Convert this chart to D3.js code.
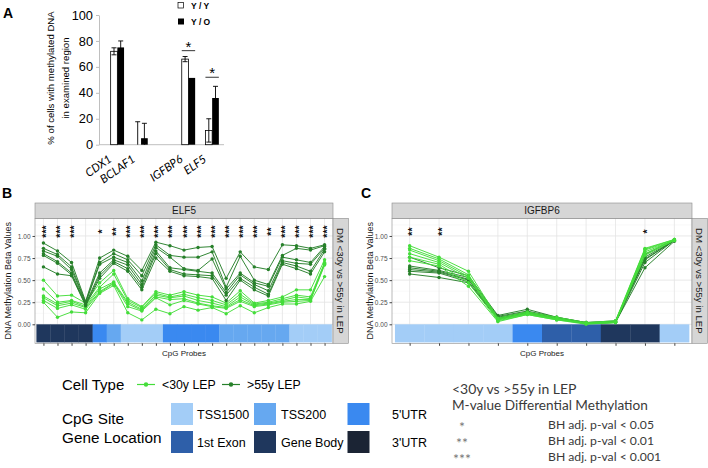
<!DOCTYPE html>
<html>
<head>
<meta charset="utf-8">
<script src="https://cdn.jsdelivr.net/npm/d3@7"></script>
<style>
  body { margin: 0; background: #fff; }
  svg { display: block; }
</style>
</head>
<body>
<svg id="fig" width="708" height="468"></svg>
<script>
// ---------- data : panel A (bisulfite, % cells methylated)
const genesA = ["CDX1", "BCLAF1", "IGFBP6", "ELF5"];
const yyMean = [72, 0, 66, 11];
const yyErr  = [2.7, 17.7, 2, 9];
const yoMean = [75, 5, 51.5, 36];
const yoErr  = [5, 11.5, 0, 9];
const sigA   = ["", "", "*", "*"];
const sigAt  = [0, 0, 72.5, 52];
const ticksA = [0, 20, 40, 60, 80, 100];

// ---------- data : panel B (ELF5, 21 CpG probes)
const elf5Old = [
  [0.92, 0.83, 0.70, 0.26, 0.75, 0.84, 0.77, 0.61, 0.93, 0.89, 0.84, 0.87, 0.88, 0.52, 0.82, 0.65, 0.62, 0.90, 0.89, 0.86, 0.90],
  [0.86, 0.79, 0.65, 0.25, 0.70, 0.80, 0.73, 0.55, 0.90, 0.78, 0.76, 0.76, 0.82, 0.42, 0.77, 0.50, 0.45, 0.78, 0.86, 0.84, 0.89],
  [0.83, 0.77, 0.62, 0.24, 0.68, 0.76, 0.70, 0.49, 0.87, 0.76, 0.63, 0.61, 0.74, 0.40, 0.58, 0.47, 0.43, 0.76, 0.73, 0.70, 0.88],
  [0.80, 0.71, 0.58, 0.23, 0.58, 0.73, 0.67, 0.45, 0.83, 0.64, 0.62, 0.60, 0.58, 0.36, 0.56, 0.45, 0.38, 0.72, 0.69, 0.68, 0.86],
  [0.78, 0.69, 0.56, 0.22, 0.55, 0.71, 0.63, 0.42, 0.80, 0.62, 0.57, 0.56, 0.55, 0.33, 0.52, 0.42, 0.34, 0.70, 0.66, 0.60, 0.85],
  [0.65, 0.57, 0.55, 0.21, 0.52, 0.69, 0.60, 0.39, 0.75, 0.60, 0.55, 0.54, 0.52, 0.27, 0.50, 0.39, 0.32, 0.68, 0.63, 0.57, 0.82]
];
const elf5Young = [
  [0.50, 0.32, 0.33, 0.24, 0.47, 0.61, 0.29, 0.20, 0.37, 0.33, 0.37, 0.33, 0.31, 0.24, 0.38, 0.24, 0.27, 0.31, 0.39, 0.39, 0.73],
  [0.40, 0.25, 0.27, 0.22, 0.42, 0.57, 0.27, 0.19, 0.35, 0.31, 0.34, 0.30, 0.27, 0.22, 0.34, 0.23, 0.25, 0.29, 0.33, 0.31, 0.70],
  [0.32, 0.23, 0.26, 0.20, 0.40, 0.48, 0.25, 0.17, 0.33, 0.30, 0.32, 0.27, 0.24, 0.20, 0.31, 0.22, 0.24, 0.27, 0.31, 0.29, 0.69],
  [0.30, 0.21, 0.24, 0.19, 0.37, 0.47, 0.23, 0.16, 0.31, 0.28, 0.29, 0.24, 0.21, 0.19, 0.28, 0.21, 0.23, 0.26, 0.28, 0.28, 0.68],
  [0.27, 0.18, 0.22, 0.17, 0.36, 0.46, 0.20, 0.15, 0.30, 0.22, 0.27, 0.23, 0.20, 0.18, 0.26, 0.20, 0.22, 0.25, 0.26, 0.27, 0.67],
  [0.25, 0.08, 0.14, 0.13, 0.35, 0.44, 0.13, 0.05, 0.17, 0.12, 0.20, 0.16, 0.19, 0.12, 0.21, 0.13, 0.19, 0.23, 0.23, 0.26, 0.54]
];
const elf5Region = ["Gene Body", "Gene Body", "Gene Body", "Gene Body", "5'UTR", "TSS200",
  "TSS1500", "TSS1500", "TSS1500", "5'UTR", "5'UTR", "5'UTR", "5'UTR",
  "TSS200", "TSS200", "TSS200", "TSS200", "TSS200", "TSS1500", "TSS1500", "TSS1500"];
const elf5Stars = ["***", "***", "***", "", "*", "**", "***", "***", "***", "***", "***",
  "***", "***", "***", "***", "***", "**", "***", "***", "***", "***"];

// ---------- data : panel C (IGFBP6, 10 CpG probes)
const igfOld = [
  [0.76, 0.64, 0.55, 0.10, 0.17, 0.08, 0.02, 0.04, 0.79, 0.96],
  [0.66, 0.61, 0.53, 0.09, 0.15, 0.08, 0.02, 0.03, 0.76, 0.95],
  [0.64, 0.60, 0.51, 0.08, 0.14, 0.07, 0.01, 0.03, 0.74, 0.95],
  [0.62, 0.59, 0.50, 0.07, 0.13, 0.07, 0.01, 0.03, 0.73, 0.95],
  [0.60, 0.58, 0.48, 0.07, 0.13, 0.06, 0.01, 0.02, 0.70, 0.95],
  [0.57, 0.53, 0.47, 0.06, 0.12, 0.06, 0.01, 0.02, 0.64, 0.94]
];
const igfYoung = [
  [0.89, 0.76, 0.60, 0.07, 0.14, 0.08, 0.02, 0.04, 0.86, 0.96],
  [0.86, 0.74, 0.56, 0.06, 0.13, 0.07, 0.01, 0.03, 0.85, 0.96],
  [0.84, 0.72, 0.54, 0.05, 0.12, 0.06, 0.01, 0.03, 0.84, 0.95],
  [0.80, 0.70, 0.52, 0.05, 0.12, 0.06, 0.01, 0.02, 0.82, 0.95],
  [0.76, 0.68, 0.47, 0.04, 0.11, 0.05, 0.01, 0.02, 0.80, 0.95],
  [0.72, 0.66, 0.43, 0.03, 0.11, 0.05, 0.00, 0.02, 0.78, 0.95]
];
const igfRegion = ["TSS1500", "TSS1500", "TSS1500", "TSS1500", "5'UTR",
  "1st Exon", "1st Exon", "Gene Body", "Gene Body", "TSS1500"];
const igfStars = ["**", "**", "", "", "", "", "", "", "*", ""];

const betaTicks = [0, 0.25, 0.5, 0.75, 1];
const cellTypes = ["<30y LEP", ">55y LEP"];
const regionNames = ["TSS1500", "TSS200", "5'UTR", "1st Exon", "Gene Body", "3'UTR"];
const sigLevels = ["*", "**", "***"];
const sigText = ["BH adj. p-val < 0.05", "BH adj. p-val < 0.01", "BH adj. p-val < 0.001"];

// ---------- styling
const arial = "'Liberation Sans', Arial, sans-serif";
const calibri = "Lato, 'Open Sans', sans-serif";
const cellColor = d3.scaleOrdinal(cellTypes, ["#44dd3a", "#27802a"]);
const regionColor = d3.scaleOrdinal(regionNames,
  ["#a3cdf7", "#66a8f0", "#3a89f0", "#2e5fa9", "#1f375d", "#1b2434"]);

const svg = d3.select("#fig").attr("font-family", arial);

// panel letters
[["A", 3, 18], ["B", 2, 198], ["C", 361, 198]].forEach(([t, x, y]) =>
  svg.append("text").attr("x", x).attr("y", y).attr("font-size", 14)
    .attr("font-weight", "bold").text(t));

// ================= Panel A
const gA = svg.append("g");
const xA = d3.scaleBand().domain([genesA[0], genesA[1], "", genesA[2], genesA[3]]).range([105.5, 224]);
const yA = d3.scaleLinear().domain([0, 100]).range([144.7, 15]);
const bw = 6.7;
const mid = g => xA(g) + xA.bandwidth() / 2;

gA.append("g").attr("transform", "translate(99,0)")
  .call(d3.axisLeft(yA).tickValues(ticksA).tickSize(3).tickSizeOuter(0).tickPadding(3))
  .call(g => g.selectAll("path,line").attr("stroke", "#bfbfbf"))
  .call(g => g.selectAll("text").attr("font-size", 12.8).attr("fill", "#000").attr("font-family", arial));
gA.append("line").attr("x1", 99).attr("x2", 224).attr("y1", yA(0)).attr("y2", yA(0)).attr("stroke", "#bfbfbf");

const yTitle = gA.append("text").attr("transform", "translate(54,78) rotate(-90)")
  .attr("text-anchor", "middle").attr("font-size", 9.6);
yTitle.append("tspan").attr("x", 0).attr("dy", 0).text("% of cells with methylated DNA");
yTitle.append("tspan").attr("x", 0).attr("dy", 15).text("in examined region");

const errBar = (x, m, e, color) => {
  if (!e) return;
  const lo = Math.max(0, m - e), hi = m + e;
  gA.append("line").attr("x1", x).attr("x2", x).attr("y1", yA(lo)).attr("y2", yA(hi)).attr("stroke", color).attr("stroke-width", 0.9);
  gA.append("line").attr("x1", x - 2.5).attr("x2", x + 2.5).attr("y1", yA(hi)).attr("y2", yA(hi)).attr("stroke", color).attr("stroke-width", 0.9);
  if (m - e > 0) gA.append("line").attr("x1", x - 2.5).attr("x2", x + 2.5).attr("y1", yA(lo)).attr("y2", yA(lo)).attr("stroke", color).attr("stroke-width", 0.9);
};

genesA.forEach((g, i) => {
  const c = mid(g);
  gA.append("rect").attr("x", c - bw).attr("width", bw).attr("y", yA(yyMean[i]))
    .attr("height", yA(0) - yA(yyMean[i])).attr("fill", "#fff").attr("stroke", "#000").attr("stroke-width", 0.8);
  errBar(c - bw / 2, yyMean[i], yyErr[i], "#000");
  gA.append("rect").attr("x", c).attr("width", bw).attr("y", yA(yoMean[i]))
    .attr("height", yA(0) - yA(yoMean[i])).attr("fill", "#000");
  errBar(c + bw / 2, yoMean[i], yoErr[i], "#000");
  if (sigA[i]) {
    gA.append("line").attr("x1", c - bw).attr("x2", c + bw).attr("y1", yA(sigAt[i])).attr("y2", yA(sigAt[i])).attr("stroke", "#000").attr("stroke-width", 0.8);
    gA.append("text").attr("x", c).attr("y", yA(sigAt[i]) + 1).attr("text-anchor", "middle")
      .attr("font-size", 15).text(sigA[i]);
  }
  gA.append("text").attr("transform", `translate(${c - 5},161) rotate(-35)`)
    .attr("text-anchor", "end").attr("font-family", calibri).attr("font-style", "italic")
    .attr("font-size", 11.5).text(g);
});

// legend A
gA.append("rect").attr("x", 178).attr("y", 2.5).attr("width", 5.5).attr("height", 5.5).attr("fill", "#fff").attr("stroke", "#000").attr("stroke-width", 0.7);
gA.append("rect").attr("x", 178).attr("y", 18.5).attr("width", 6).attr("height", 6).attr("fill", "#000");
gA.append("text").attr("x", 191).attr("y", 8.5).attr("font-size", 8.5).attr("font-weight", "bold").text("Y / Y");
gA.append("text").attr("x", 191).attr("y", 24.5).attr("font-size", 8.5).attr("font-weight", "bold").text("Y / O");

// ================= Panels B and C
function facet(o) {
  const n = o.region.length;
  const g = svg.append("g");
  const x = d3.scalePoint().domain(d3.range(n)).range([o.x0, o.x1]).padding(0.6);
  const y = d3.scaleLinear().domain([-0.215, 1.2]).range([343.3, 218.3]);
  const step = x.step();

  g.append("rect").attr("x", o.x0).attr("y", 218.3).attr("width", o.x1 - o.x0).attr("height", 125).attr("fill", "#fff");
  // minor grid
  g.selectAll(".mn").data([0.125, 0.375, 0.625, 0.875, 1.125]).join("line")
    .attr("x1", o.x0).attr("x2", o.x1).attr("y1", d => y(d)).attr("y2", d => y(d))
    .attr("stroke", "#f0f0f0").attr("stroke-width", 0.5);
  g.selectAll(".mj").data(betaTicks).join("line")
    .attr("x1", o.x0).attr("x2", o.x1).attr("y1", d => y(d)).attr("y2", d => y(d))
    .attr("stroke", "#e3e3e3").attr("stroke-width", 0.8);
  g.selectAll(".vx").data(d3.range(n)).join("line")
    .attr("x1", d => x(d)).attr("x2", d => x(d)).attr("y1", 218.3).attr("y2", 343.3)
    .attr("stroke", "#e3e3e3").attr("stroke-width", 0.8);

  // gene location tiles
  g.selectAll(".tile").data(o.region).join("rect")
    .attr("x", (d, i) => x(i) - step / 2).attr("width", step + 0.3)
    .attr("y", y(0)).attr("height", y(-0.205) - y(0))
    .attr("fill", d => regionColor(d));

  const line = d3.line().x((d, i) => x(i)).y(d => y(d));
  const series = [];
  o.order.forEach(k => (k === 0 ? o.young : o.old).forEach(v => series.push({ k, v })));
  series.forEach(s => {
    const col = cellColor(cellTypes[s.k]);
    g.append("path").attr("d", line(s.v)).attr("fill", "none").attr("stroke", col).attr("stroke-width", 0.95);
    g.selectAll(null).data(s.v).join("circle")
      .attr("cx", (d, i) => x(i)).attr("cy", d => y(d)).attr("r", 1.7).attr("fill", col);
  });

  // significance stars (rotated, as in the ggplot)
  g.selectAll(".star").data(o.stars).join("text")
    .attr("transform", (d, i) => `translate(${x(i)},${y(1.05)}) rotate(-90)`)
    .attr("text-anchor", "middle").attr("dy", "0.62em")
    .attr("font-size", 10.5).attr("font-weight", "bold").attr("fill", "#111").text(d => d);

  // border
  g.append("rect").attr("x", o.x0).attr("y", 218.3).attr("width", o.x1 - o.x0).attr("height", 125)
    .attr("fill", "none").attr("stroke", "#8a8a8a").attr("stroke-width", 0.6);

  // strips
  g.append("rect").attr("x", o.x0).attr("y", 203).attr("width", o.x1 - o.x0).attr("height", 15.3)
    .attr("fill", "#d6d6d6").attr("stroke", "#8a8a8a").attr("stroke-width", 0.6);
  g.append("text").attr("x", (o.x0 + o.x1) / 2).attr("y", 214.3).attr("text-anchor", "middle")
    .attr("font-size", 10).attr("fill", "#1a1a1a").text(o.title);
  g.append("rect").attr("x", o.x1).attr("y", 218.3).attr("width", 15.5).attr("height", 125)
    .attr("fill", "#d6d6d6").attr("stroke", "#8a8a8a").attr("stroke-width", 0.6);
  g.append("text").attr("transform", `translate(${o.x1 + 4.2},${280.8}) rotate(90)`)
    .attr("text-anchor", "middle").attr("font-size", 9.6).attr("fill", "#1a1a1a")
    .text("DM <30y vs >55y in LEP");

  // axes
  g.append("g").attr("transform", `translate(${o.x0},0)`)
    .call(d3.axisLeft(y).tickValues(betaTicks).tickFormat(d3.format(".2f")).tickSize(2.5).tickPadding(2))
    .call(a => a.select(".domain").remove())
    .call(a => a.selectAll("line").attr("stroke", "#444"))
    .call(a => a.selectAll("text").attr("font-size", 6.5).attr("fill", "#4d4d4d").attr("font-family", arial));
  g.append("g").attr("transform", "translate(0,343.3)")
    .call(d3.axisBottom(x).tickSize(2.5).tickFormat(""))
    .call(a => a.select(".domain").remove())
    .call(a => a.selectAll("line").attr("stroke", "#444"));
  g.append("text").attr("x", (o.x0 + o.x1) / 2).attr("y", 356).attr("text-anchor", "middle")
    .attr("font-size", 8).attr("fill", "#1a1a1a").text("CpG Probes");
  g.append("text").attr("transform", `translate(${o.ylabX},280.8) rotate(-90)`)
    .attr("text-anchor", "middle").attr("font-size", 9).attr("fill", "#1a1a1a")
    .text("DNA Methylation Beta Values");
}

facet({ x0: 35, x1: 333, title: "ELF5", region: elf5Region, young: elf5Young, old: elf5Old,
  stars: elf5Stars, order: [0, 1], ylabX: 11 });
facet({ x0: 392, x1: 692, title: "IGFBP6", region: igfRegion, young: igfYoung, old: igfOld,
  stars: igfStars, order: [1, 0], ylabX: 373 });

// ================= Bottom legends
const gL = svg.append("g");
gL.append("text").attr("x", 62).attr("y", 390).attr("font-size", 15).text("Cell Type");
[[137, 162], [222, 247]].forEach(([lx, tx], i) => {
  const col = cellColor(cellTypes[i]);
  gL.append("line").attr("x1", lx).attr("x2", lx + 18).attr("y1", 384.5).attr("y2", 384.5).attr("stroke", col).attr("stroke-width", 1.2);
  gL.append("circle").attr("cx", lx + 9).attr("cy", 384.5).attr("r", 2.2).attr("fill", col);
  gL.append("text").attr("x", tx).attr("y", 389).attr("font-size", 12.3).text(cellTypes[i]);
});
gL.append("text").attr("x", 62).attr("y", 424).attr("font-size", 15.3).text("CpG Site");
gL.append("text").attr("x", 62).attr("y", 443).attr("font-size", 15.3).text("Gene Location");
const boxX = [171, 254, 347.5], labX = [197, 281, 392];
regionNames.forEach((r, i) => {
  const col = i % 3, row = Math.floor(i / 3);
  const by = row ? 431 : 403;
  gL.append("rect").attr("x", boxX[col]).attr("y", by).attr("width", 22).attr("height", 22).attr("fill", regionColor(r));
  gL.append("text").attr("x", labX[col]).attr("y", by + 15.5).attr("font-size", 12.5).text(r);
});

const gR = svg.append("g").attr("font-family", calibri).attr("fill", "#3a3a3a");
gR.append("text").attr("x", 452).attr("y", 394).attr("font-size", 14).text("<30y vs >55y in LEP");
gR.append("text").attr("x", 452).attr("y", 410).attr("font-size", 13.6).text("M-value Differential Methylation");
sigLevels.forEach((s, i) => {
  const yy = 429 + i * 16;
  gR.append("text").attr("x", 462).attr("y", yy + 3).attr("text-anchor", "middle").attr("font-size", 14).attr("fill", "#777").text(s);
  gR.append("text").attr("x", 548).attr("y", yy).attr("font-size", 12.2).text(sigText[i]);
});
</script>
</body>
</html>
